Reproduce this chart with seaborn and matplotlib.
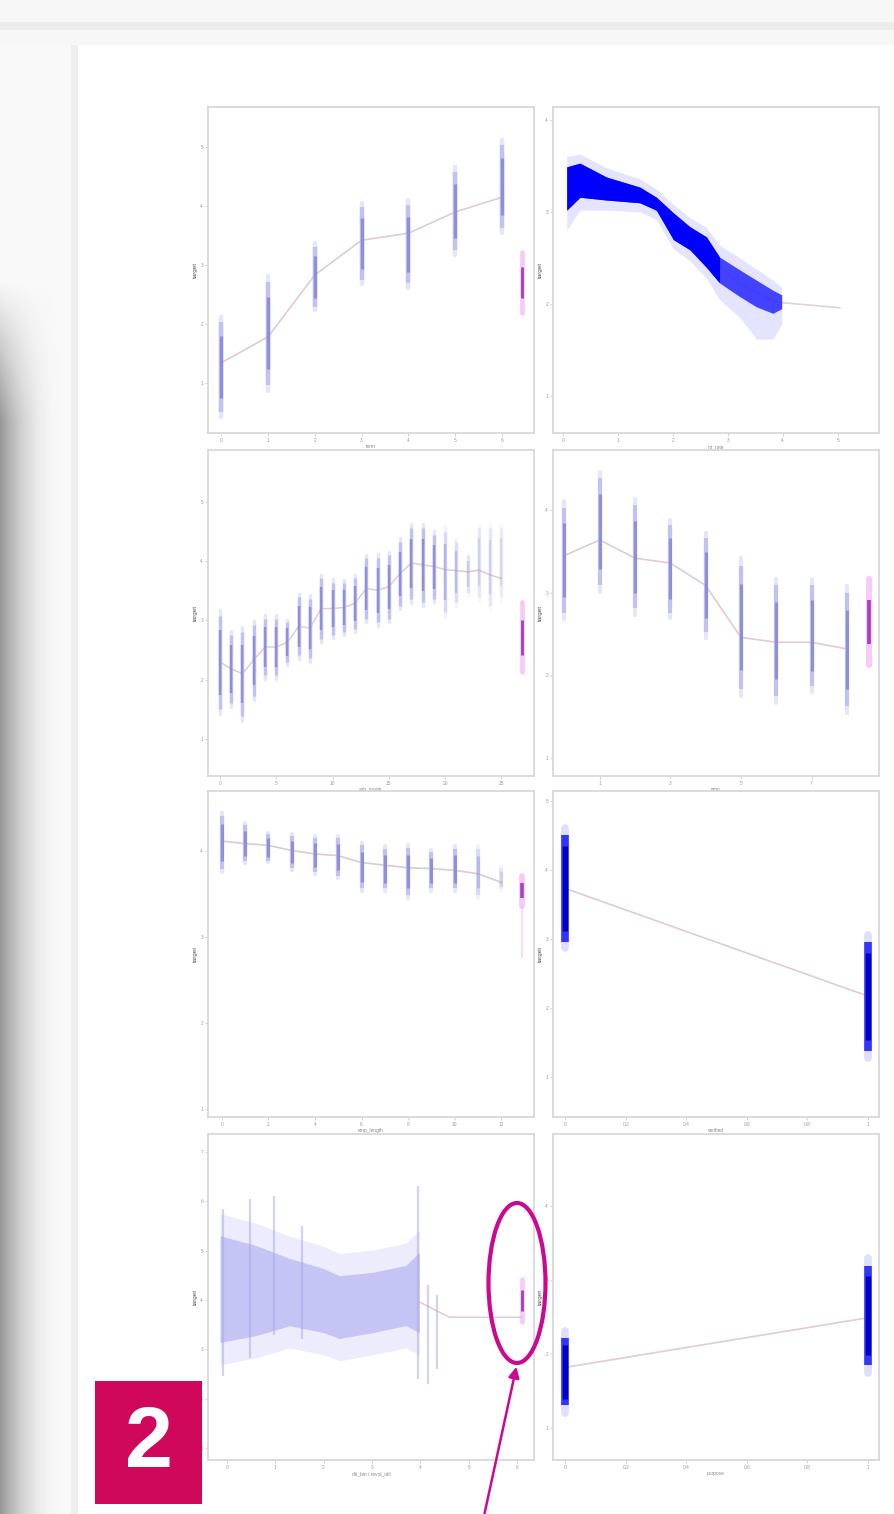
import numpy as np
import matplotlib.pyplot as plt
import seaborn as sns
from matplotlib.patches import Ellipse, Rectangle

sns.set_style("white")
plt.rcParams['font.family'] = ['Liberation Sans', 'DejaVu Sans']

W, H = 894, 1514

# ---------------- data ----------------
# row 1 left: category strips + missing (magenta) strip
p1_x = [0, 1, 2, 3, 4, 5, 6]
p1_lo = [0.51, 0.97, 2.29, 2.75, 2.69, 3.25, 3.63]
p1_hi = [2.03, 2.71, 3.31, 3.98, 4.02, 4.58, 5.03]
p1_mean = [1.34, 1.78, 2.83, 3.42, 3.54, 3.90, 4.15]
p1_na = [6.43, 2.19, 3.22]

# row 1 right: dense continuous band
p2_x = [0.07, 0.31, 0.79, 1.40, 1.70, 2.01, 2.31, 2.61, 2.85, 3.22, 3.52, 3.82, 3.98]
p2_up = [3.49, 3.53, 3.38, 3.27, 3.16, 2.99, 2.84, 2.73, 2.51, 2.37, 2.26, 2.15, 2.10]
p2_dn = [3.02, 3.16, 3.13, 3.10, 3.02, 2.70, 2.59, 2.40, 2.23, 2.08, 1.97, 1.90, 1.95]
p2_upf = [3.60, 3.63, 3.48, 3.36, 3.25, 3.08, 2.94, 2.83, 2.64, 2.50, 2.38, 2.26, 2.18]
p2_dnf = [2.80, 3.02, 3.02, 3.00, 2.92, 2.60, 2.47, 2.28, 2.05, 1.85, 1.62, 1.62, 1.78]
p2_line_x = [0.1, 0.8, 1.4, 2.0, 2.6, 3.2, 3.9, 5.04]
p2_line_y = [3.25, 3.25, 3.18, 2.85, 2.56, 2.22, 2.02, 1.96]

# row 2 left: many category strips
p3_x = list(range(26))
p3_lo = [1.51, 1.61, 1.39, 1.73, 2.07, 2.07, 2.29, 2.41, 2.36, 2.69, 2.75, 2.80, 2.86,
         3.03, 2.97, 3.03, 3.25, 3.37, 3.31, 3.37, 3.14, 3.31, 3.47, 3.40, 3.25, 3.40]
p3_hi = [3.08, 2.75, 2.80, 2.92, 3.03, 3.03, 2.97, 3.39, 3.37, 3.71, 3.64, 3.64, 3.71,
         4.05, 4.05, 4.10, 4.32, 4.56, 4.56, 4.44, 4.49, 4.32, 4.10, 4.56, 4.56, 4.56]
p3_mean = [2.30, 2.18, 2.10, 2.33, 2.55, 2.55, 2.63, 2.90, 2.87, 3.20, 3.20, 3.22, 3.29,
           3.54, 3.51, 3.57, 3.79, 3.97, 3.94, 3.91, 3.86, 3.84, 3.82, 3.85, 3.77, 3.71]
p3_alpha = [1] * 20 + [0.55, 0.45, 0.35, 0.3, 0.3, 0.25]
p3_na = [26.8, 2.12, 3.31]

# row 2 right
p4_x = [0, 1, 2, 3, 4, 5, 6, 7, 8]
p4_lo = [2.76, 3.09, 2.81, 2.76, 2.52, 1.84, 1.75, 1.87, 1.63]
p4_hi = [4.03, 4.39, 4.06, 3.82, 3.66, 3.33, 3.09, 3.09, 3.00]
p4_mean = [3.45, 3.64, 3.42, 3.36, 3.09, 2.46, 2.40, 2.40, 2.32]
p4_na = [8.63, 2.12, 3.17]

# row 3 left
p5_x = list(range(13))
p5_lo = [3.79, 3.88, 3.88, 3.80, 3.75, 3.71, 3.56, 3.56, 3.48, 3.56, 3.56, 3.48, 3.55]
p5_hi = [4.40, 4.29, 4.19, 4.17, 4.14, 4.14, 4.06, 4.02, 4.03, 3.98, 4.02, 4.02, 3.80]
p5_mean = [4.11, 4.08, 4.06, 4.00, 3.96, 3.94, 3.86, 3.83, 3.80, 3.79, 3.77, 3.73, 3.63]
p5_alpha = [1] * 11 + [0.5, 0.3]
p5_na = [12.9, 3.36, 3.71]

# row 3 right: binary
p6_x = [0, 1]
p6_lo = [2.96, 1.37]
p6_hi = [4.50, 2.96]
p6_mean = [3.73, 2.17]

# row 4 left: dense continuous
p7_x = [-0.14, 0.61, 1.30, 1.99, 2.33, 3.02, 3.70, 3.98]
p7_up = [5.30, 5.10, 4.84, 4.64, 4.49, 4.56, 4.70, 4.96]
p7_dn = [3.14, 3.28, 3.48, 3.34, 3.22, 3.34, 3.48, 3.34]
p7_spike_x = [-0.07, 0.47, 0.98, 1.55, 3.95, 4.15, 4.35]
p7_spike_lo = [2.47, 2.82, 3.30, 3.20, 2.41, 2.30, 2.60]
p7_spike_hi = [5.85, 6.05, 6.10, 5.50, 6.31, 4.30, 4.10]
p7_line_x = [-0.1, 1.0, 2.0, 3.0, 3.9, 4.6, 6.1]
p7_line_y = [4.20, 4.15, 3.95, 3.90, 4.00, 3.65, 3.65]
p7_na = [6.1, 3.55, 4.43]

# row 4 right: binary
p8_x = [0, 1]
p8_lo = [1.31, 1.85]
p8_hi = [2.21, 3.19]
p8_mean = [1.82, 2.49]

# ---------------- styling ----------------
LAV, CORE = "#b8b8f2", "#7a7ad2"
PINK, PURP = "#f4a8f4", "#9a28bc"
MAG = "#cc0890"
LINE = "#e2cccc"

fig = plt.figure(figsize=(W / 100, H / 100), dpi=100)

# page + shadow background
yy, xx = np.mgrid[0:H, 0:W]
bg = np.ones((H, W))
bg[:45, :] = 0.965
bg[22:30, :] = 0.925
shade = np.clip((yy - 280) / 140.0, 0, 1) * np.clip(1 - xx / 66.0, 0, 1) ** 2.2
bg = np.where((xx < 78) & (yy >= 45), 0.975 - 0.38 * shade, bg)
bg[45:, 71:78] = np.minimum(bg[45:, 71:78], 0.935)
bgax = fig.add_axes([0, 0, 1, 1], zorder=-5)
bgax.imshow(bg, cmap="gray", vmin=0, vmax=1, extent=(0, W, H, 0), aspect="auto",
            interpolation="bilinear")
bgax.axis("off")


def make_ax(px_left, px_top, xlim, ylim, xt, yt, xlab, ylab):
    ax = fig.add_axes([px_left / W, 1 - (px_top + 326) / H, 326 / W, 326 / H], zorder=1)
    ax.set_xlim(*xlim)
    ax.set_ylim(*ylim)
    ax.set_xticks(xt)
    ax.set_yticks(yt)
    ax.set_xticklabels([f"{v:g}" for v in xt])
    ax.set_yticklabels([f"{v:g}" for v in yt])
    ax.tick_params(length=2, width=0.5, color="#c0c0c0", labelsize=3.5,
                   labelcolor="#9a9a9a", pad=1.5, bottom=True, left=True)
    for s in ax.spines.values():
        s.set_color("#d6d6d6")
        s.set_linewidth(1.2)
    ax.set_xlabel(xlab, fontsize=3.5, color="#8a8a8a", labelpad=1)
    ax.set_ylabel(ylab, fontsize=4.5, color="#555555", labelpad=2)
    return ax


def strips(ax, xs, lo, hi, lw, alphas=None, light=LAV, core=CORE):
    for i, x in enumerate(xs):
        a = 1 if alphas is None else alphas[i]
        l, h = lo[i], hi[i]
        ext = 0.06 * (h - l)
        ax.vlines(x, l - ext, h + ext, color=light, lw=lw, alpha=0.35 * a, capstyle="round")
        ax.vlines(x, l, h, color=light, lw=lw, alpha=0.8 * a)
        pad = 0.15 * (h - l)
        ax.vlines(x, l + pad, h - pad, color=core, lw=lw * 0.75, alpha=0.7 * a)


def na_strip(ax, na, lw):
    x, l, h = na
    ax.vlines(x, l, h, color=PINK, lw=lw * 1.3, alpha=0.6, capstyle="round")
    pad = 0.25 * (h - l)
    ax.vlines(x, l + pad, h - pad, color=PURP, lw=lw * 0.8, alpha=0.85)


def dense(ax, xs, lo, hi):
    for i, x in enumerate(xs):
        ax.vlines(x, lo[i] - 0.1, hi[i] + 0.1, color="#c8c8ff", lw=5.5, alpha=0.6,
                  capstyle="round")
        ax.vlines(x, lo[i], hi[i], color="#3434ff", lw=5.5)
        pad = 0.1 * (hi[i] - lo[i])
        ax.vlines(x, lo[i] + pad, hi[i] - pad, color="#0000c0", lw=3.8)


L, R = 208, 553
T1, T2, T3, T4 = 107, 450, 791, 1134

# row 1 left
ax = make_ax(L, T1, (-0.28, 6.68), (0.15, 5.68), range(7), range(1, 6), "term", "target")
sns.lineplot(x=p1_x, y=p1_mean, ax=ax, color=LINE, lw=1.2, zorder=1)
strips(ax, p1_x, p1_lo, p1_hi, 3.2)
na_strip(ax, p1_na, 2.6)

# row 1 right
ax = make_ax(R, T1, (-0.18, 5.75), (0.60, 4.14), range(6), range(1, 5), "int_rate", "target")
sns.lineplot(x=p2_line_x, y=p2_line_y, ax=ax, color="#dcd4d4", lw=1.2, zorder=1)
ax.fill_between(p2_x, p2_dnf, p2_upf, color="#b4b4ff", alpha=0.35, lw=0, zorder=2)
ax.fill_between(p2_x, p2_dn, p2_up, color="#3030ff", alpha=0.9, lw=0, zorder=3)
ax.fill_between(p2_x, p2_dn, p2_up, where=[x <= 2.9 for x in p2_x], color="#0000ff",
                lw=0, zorder=4)

# row 2 left
ax = make_ax(L, T2, (-1.06, 27.9), (0.37, 5.88), range(0, 26, 5), range(1, 6),
             "sub_grade", "target")
sns.lineplot(x=p3_x, y=p3_mean, ax=ax, color=LINE, lw=1.1, zorder=1)
strips(ax, p3_x, p3_lo, p3_hi, 2.4, p3_alpha)
na_strip(ax, p3_na, 2.6)

# row 2 right
ax = make_ax(R, T2, (-0.32, 8.91), (0.78, 4.73), [1, 3, 5, 7], range(1, 5), "emp", "target")
sns.lineplot(x=p4_x, y=p4_mean, ax=ax, color=LINE, lw=1.2, zorder=1)
strips(ax, p4_x, p4_lo, p4_hi, 3.0)
na_strip(ax, p4_na, 3.4)

# row 3 left
ax = make_ax(L, T3, (-0.59, 13.4), (0.91, 4.69), range(0, 13, 2), range(1, 5),
             "emp_length", "target")
sns.lineplot(x=p5_x, y=p5_mean, ax=ax, color="#d8cccc", lw=1.2, zorder=1)
strips(ax, p5_x, p5_lo, p5_hi, 3.0, p5_alpha)
ax.vlines(p5_na[0], 2.75, p5_na[1], color=PINK, lw=1.5, alpha=0.4)
na_strip(ax, p5_na, 3.2)

# row 3 right
ax = make_ax(R, T3, (-0.04, 1.036), (0.42, 5.14), [0, 0.2, 0.4, 0.6, 0.8, 1.0],
             range(1, 6), "verified", "target")
sns.lineplot(x=p6_x, y=p6_mean, ax=ax, color=LINE, lw=1.2, zorder=1)
dense(ax, p6_x, p6_lo, p6_hi)

# row 4 left
ax = make_ax(L, T4, (-0.39, 6.35), (0.76, 7.36), range(7), range(1, 8),
             "dti_bin / revol_util", "target")
sns.lineplot(x=p7_line_x, y=p7_line_y, ax=ax, color=LINE, lw=1.1, zorder=1)
ax.fill_between(p7_x, [v - 0.45 for v in p7_dn], [v + 0.45 for v in p7_up],
                color="#ececfc", lw=0, zorder=2)
ax.fill_between(p7_x, p7_dn, p7_up, color="#c4c4f5", lw=0, zorder=3)
ax.vlines(p7_spike_x, p7_spike_lo, p7_spike_hi, color="#a8a8ea", lw=1.6, alpha=0.5,
          zorder=4)
na_strip(ax, p7_na, 2.6)

# row 4 right
ax = make_ax(R, T4, (-0.04, 1.036), (0.57, 4.97), [0, 0.2, 0.4, 0.6, 0.8, 1.0],
             range(1, 5), "purpose", "target")
sns.lineplot(x=p8_x, y=p8_mean, ax=ax, color=LINE, lw=1.2, zorder=1)
dense(ax, p8_x, p8_lo, p8_hi)

# annotations drawn on top in pixel coordinates
top = fig.add_axes([0, 0, 1, 1], zorder=20)
top.set_xlim(0, W)
top.set_ylim(H, 0)
top.axis("off")
top.patch.set_alpha(0)
top.add_patch(Rectangle((95, 1381), 107, 123, color="#d0085c", lw=0))
top.text(149, 1445, "2", color="white", fontsize=62, fontweight="bold",
         ha="center", va="center")
top.add_patch(Ellipse((517, 1283), 57, 160, fill=False, ec=MAG, lw=3))
top.annotate("", xy=(517, 1364), xytext=(484, 1516),
             arrowprops=dict(arrowstyle="-|>", color=MAG, lw=1.8, mutation_scale=16))

fig.savefig("out.png", dpi=100)
